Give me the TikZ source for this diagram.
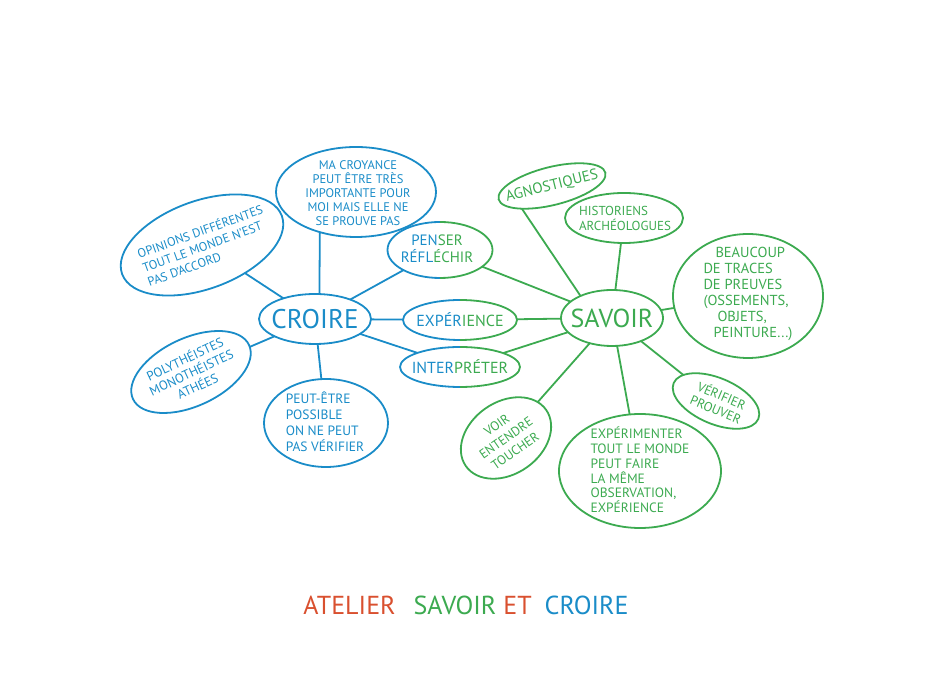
\documentclass[tikz,border=0pt]{standalone}
\usepackage{fontspec}
\setmainfont{PT Sans}
\usepackage{tikz}
\usetikzlibrary{shapes.geometric}
\definecolor{croireblue}{HTML}{1A8CC8}
\definecolor{savoirgreen}{HTML}{3CAA50}
\definecolor{titlered}{HTML}{D9502F}

\begin{document}
\begin{tikzpicture}[x=1pt, y=1pt,
  bubble/.style={ellipse, draw, line width=1.8pt, inner sep=0pt, outer sep=0pt},
  txt/.style={font=\fontsize{13}{15}\selectfont, align=center, inner sep=0pt},
  big/.style={font=\fontsize{27}{29}\selectfont, inner sep=0pt},
  link/.style={line width=1.8pt}]
  \useasboundingbox (0,0) rectangle (934,679);

  % croire side
  \begin{scope}[croireblue]
    \node[bubble, minimum width=112, minimum height=50] (croire) at (315,360) {};
    \node[big] (croire-t) at (croire) {CROIRE};
    \node[bubble, minimum width=160, minimum height=90] (croyance) at (356,487) {};
    \node[txt, font=\fontsize{12.5}{14}\selectfont] (croyance-t) at (358,486) {MA CROYANCE\\PEUT ÊTRE TRÈS\\IMPORTANTE POUR\\MOI MAIS ELLE NE\\SE PROUVE PAS};
    \node[bubble, rotate=20, minimum width=170, minimum height=88] (opinions) at (202,434) {};
    \node[txt, rotate=20, align=left, font=\fontsize{12.5}{15}\selectfont] (opinions-t) at (205,434) {OPINIONS DIFFÉRENTES\\TOUT LE MONDE N'EST\\PAS D'ACCORD};
    \node[bubble, rotate=25, minimum width=128, minimum height=68] (theistes) at (191,307) {};
    \node[txt, rotate=25] (theistes-t) at (theistes) {POLYTHÉISTES\\MONOTHÉISTES\\ATHÉES};
    \node[bubble, minimum width=124, minimum height=88] (peutetre) at (326,256) {};
    \node[txt, align=left, font=\fontsize{13.5}{16}\selectfont] (peutetre-t) at (325,257) {PEUT-ÊTRE\\POSSIBLE\\ON NE PEUT\\PAS VÉRIFIER};
    \draw[link] (croire) -- (opinions);
    \draw[link] (croire.80) -- (croyance.228);
    \draw[link] (croire) -- (theistes);
    \draw[link] (croire) -- (peutetre);
  \end{scope}

  % shared bubbles, half blue half green
  \node[bubble, draw=none, minimum width=105, minimum height=56] (penser) at (440,429) {};
  \node[bubble, draw=none, minimum width=114, minimum height=40] (experience) at (460,359) {};
  \node[bubble, draw=none, minimum width=120, minimum height=40] (interpreter) at (460,312) {};
  \foreach \n/\rx/\ry in {penser/52.5/28, experience/57/20, interpreter/60/20} {
    \draw[link, croireblue] (\n.north) arc[start angle=90, end angle=270, x radius=\rx, y radius=\ry];
    \draw[link, savoirgreen] (\n.north) arc[start angle=90, end angle=-90, x radius=\rx, y radius=\ry];
  }
  \node[txt, font=\fontsize{15}{17}\selectfont] (penser-t) at (437,430) {\textcolor{croireblue}{PEN}\textcolor{savoirgreen}{SER}\\\textcolor{croireblue}{RÉFL}\textcolor{savoirgreen}{ÉCHIR}};
  \node[txt, font=\fontsize{16}{18}\selectfont] (experience-t) at (experience) {\textcolor{croireblue}{EXPÉR}\textcolor{savoirgreen}{IENCE}};
  \node[txt, font=\fontsize{16}{18}\selectfont] (interpreter-t) at (interpreter) {\textcolor{croireblue}{INTER}\textcolor{savoirgreen}{PRÉTER}};
  \draw[link, croireblue] (croire) -- (penser);
  \draw[link, croireblue] (croire) -- (experience);
  \draw[link, croireblue] (croire) -- (interpreter);

  % savoir side
  \begin{scope}[savoirgreen]
    \node[bubble, minimum width=102, minimum height=56] (savoir) at (612,361) {};
    \node[big, font=\fontsize{26}{28}\selectfont] (savoir-t) at (savoir) {SAVOIR};
    \node[bubble, rotate=14, minimum width=110, minimum height=38] (agnostiques) at (552,493) {};
    \node[txt, rotate=14, font=\fontsize{15}{17}\selectfont] (agnostiques-t) at (agnostiques) {AGNOSTIQUES};
    \node[bubble, minimum width=118, minimum height=50] (historiens) at (624,461) {};
    \node[txt, align=left] (historiens-t) at (625,461) {HISTORIENS\\ARCHÉOLOGUES};
    \node[bubble, minimum width=150, minimum height=124] (traces) at (748,383) {};
    \node[txt, align=left, font=\fontsize{14.5}{16}\selectfont] (traces-t) at (748,385) {\hspace{12pt}BEAUCOUP\\DE TRACES\\DE PREUVES\\(OSSEMENTS,\\\hspace{14pt}OBJETS,\\\hspace{10pt}PEINTURE...)};
    \node[bubble, rotate=35, minimum width=98, minimum height=72] (sens) at (506,241) {};
    \node[txt, rotate=35, font=\fontsize{13}{16}\selectfont] (sens-t) at (sens) {VOIR\\ENTENDRE\\TOUCHER};
    \node[bubble, minimum width=162, minimum height=114] (experimenter) at (640,208) {};
    \node[txt, align=left, font=\fontsize{13.5}{14.8}\selectfont] (experimenter-t) at (640,209) {EXPÉRIMENTER\\TOUT LE MONDE\\PEUT FAIRE\\LA MÊME\\OBSERVATION,\\EXPÉRIENCE};
    \node[bubble, rotate=-23, minimum width=92, minimum height=46] (verifier) at (716,278) {};
    \node[txt, rotate=-23] (verifier-t) at (719,277) {VÉRIFIER\\PROUVER};
    \draw[link] (penser) -- (savoir);
    \draw[link] (experience) -- (savoir);
    \draw[link] (interpreter) -- (savoir);
    \draw[link] (agnostiques.203) -- (savoir.145);
    \draw[link] (savoir) -- (historiens);
    \draw[link] (savoir) -- (traces);
    \draw[link] (savoir) -- (sens);
    \draw[link] (savoir) -- (experimenter);
    \draw[link] (savoir) -- (verifier);
  \end{scope}

  % title
  \node[font=\fontsize{26}{28}\selectfont] (title) at (466,74) {\textcolor{titlered}{ATELIER}\hspace{18pt}\textcolor{savoirgreen}{SAVOIR} \textcolor{titlered}{ET}\hspace{6pt} \textcolor{croireblue}{CROIRE}};
\end{tikzpicture}
\end{document}
